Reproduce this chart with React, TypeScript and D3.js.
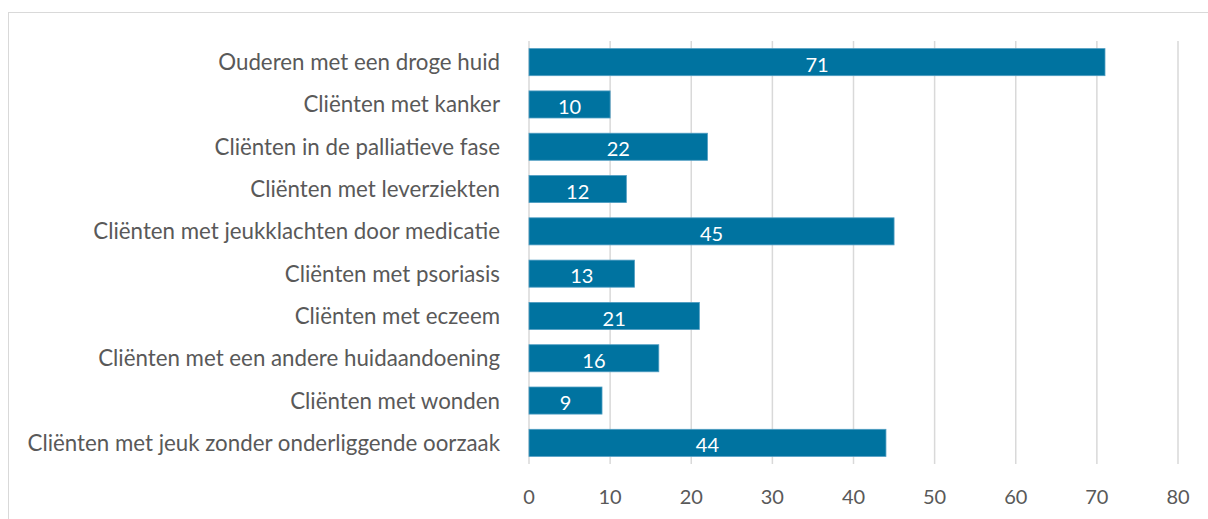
import React from "react";
import * as d3 from "d3";

const categories = [
  "Ouderen met een droge huid",
  "Cliënten met kanker",
  "Cliënten in de palliatieve fase",
  "Cliënten met leverziekten",
  "Cliënten met jeukklachten door medicatie",
  "Cliënten met psoriasis",
  "Cliënten met eczeem",
  "Cliënten met een andere huidaandoening",
  "Cliënten met wonden",
  "Cliënten met jeuk zonder onderliggende oorzaak",
];
const values = [71, 10, 22, 12, 45, 13, 21, 16, 9, 44];
const ticks = [0, 10, 20, 30, 40, 50, 60, 70, 80];

const W = 1208;
const H = 519;
const FONT = "Lato, 'Open Sans', sans-serif";

export default function App() {
  const x = d3.scaleLinear().domain([0, 80]).range([529, 1178]);
  const y = d3
    .scaleBand<string>()
    .domain(categories)
    .range([41, 464])
    .paddingInner(0.36)
    .paddingOuter(0.18);

  return (
    <svg
      width={W}
      height={H}
      style={{ position: "absolute", left: 0, top: 0, background: "#fff" }}
    >
      <rect x={8.5} y={12.5} width={1220} height={520} fill="#fff" stroke="#d9d9d9" strokeWidth={1} />
      {ticks.map((t) => (
        <line key={t} x1={x(t)} x2={x(t)} y1={41} y2={464} stroke="#d9d9d9" strokeWidth={1.5} />
      ))}
      {categories.map((c, i) => (
        <g key={c}>
          <rect
            x={x(0)}
            y={y(c)!}
            width={x(values[i]) - x(0)}
            height={y.bandwidth()}
            fill="#0073a0"
            stroke="#4f9dc2"
            strokeWidth={0.8}
          />
          <text
            x={(x(0) + x(values[i])) / 2}
            y={y(c)! + y.bandwidth() / 2}
            dy="0.48em"
            textAnchor="middle"
            fill="#fff"
            fontFamily={FONT}
            fontSize={20}
          >
            {values[i]}
          </text>
          <text
            x={500}
            y={y(c)! + y.bandwidth() / 2}
            dy="0.36em"
            textAnchor="end"
            fill="#595959"
            fontFamily={FONT}
            fontSize={22.3}
          >
            {c}
          </text>
        </g>
      ))}
      {ticks.map((t) => (
        <text
          key={"l" + t}
          x={x(t)}
          y={497}
          dy="0.36em"
          textAnchor="middle"
          fill="#595959"
          fontFamily={FONT}
          fontSize={20}
        >
          {t}
        </text>
      ))}
    </svg>
  );
}
